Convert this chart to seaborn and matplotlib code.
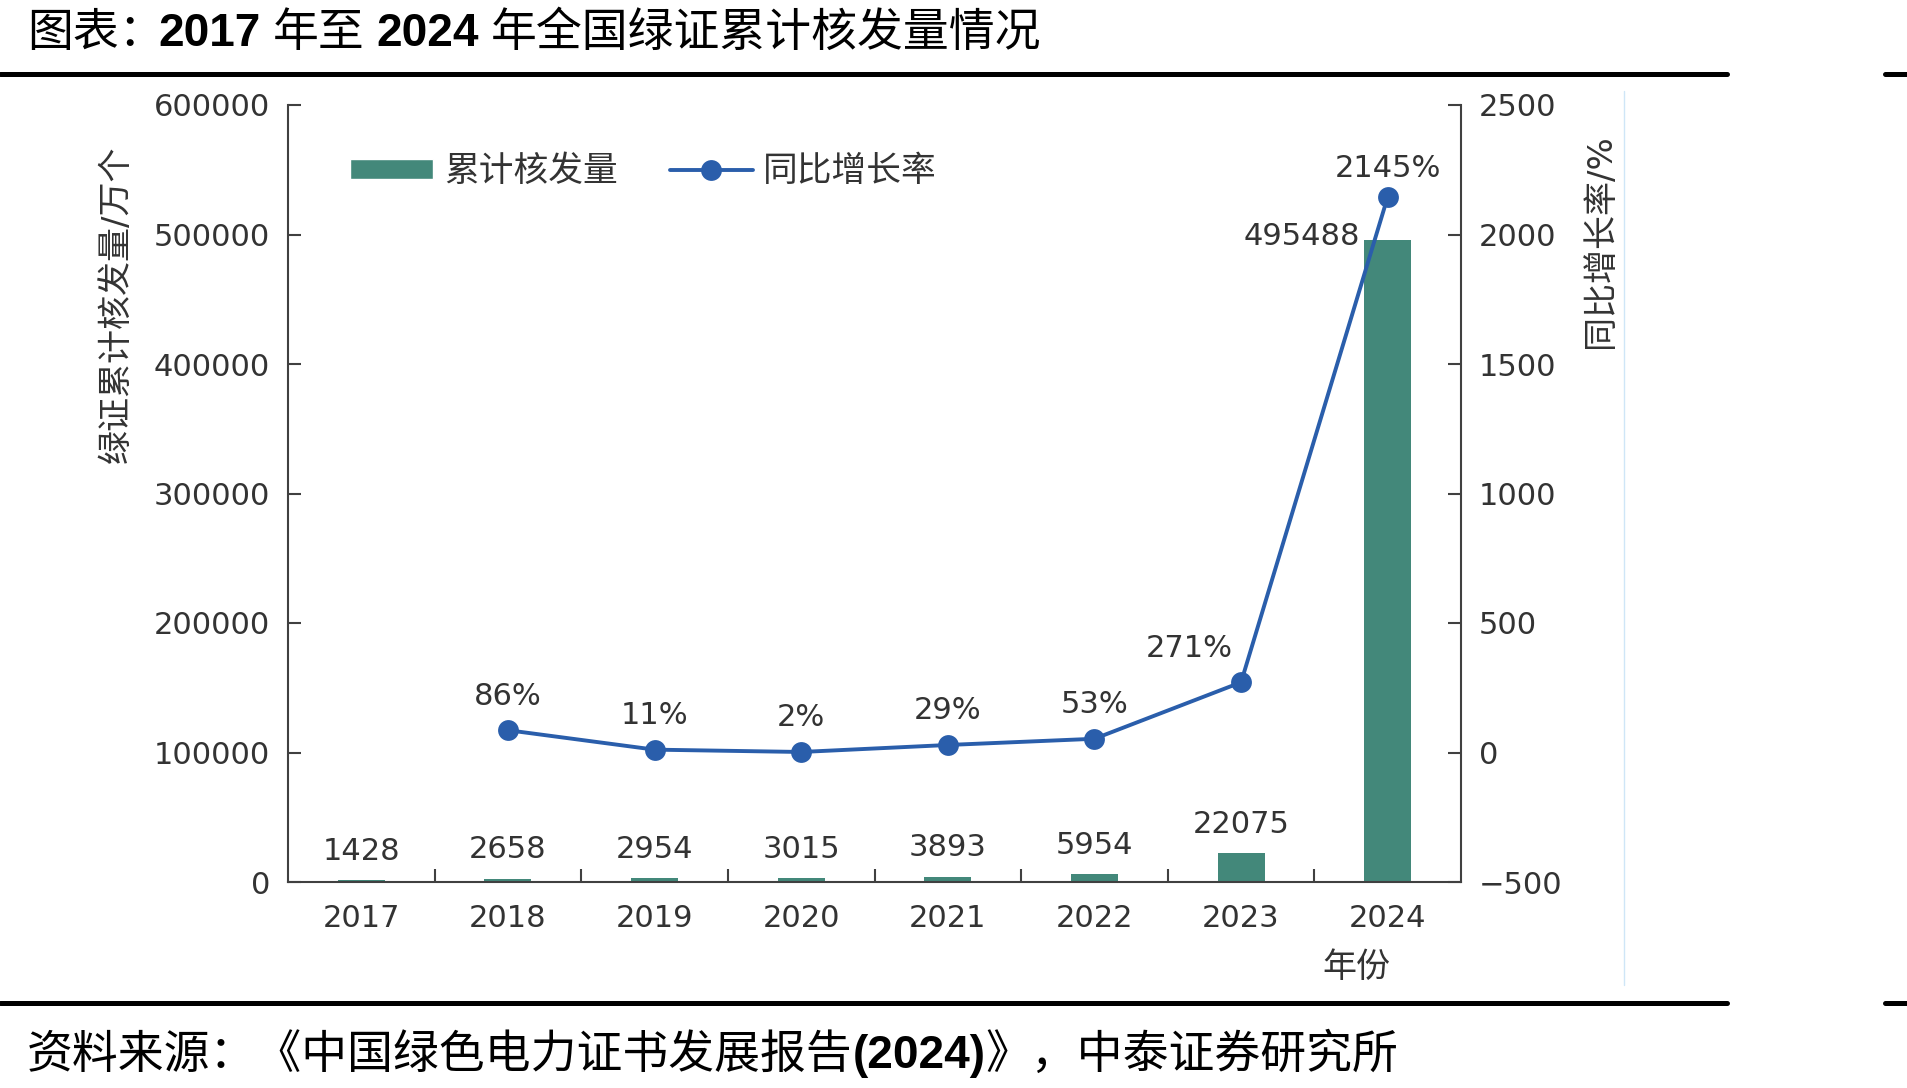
import matplotlib
matplotlib.use('Agg')
import matplotlib.pyplot as plt
import seaborn as sns
import numpy as np
from matplotlib.lines import Line2D
from matplotlib.patches import Patch
from matplotlib.ticker import FixedLocator, MultipleLocator

# 数据: 2017-2024 年全国绿证累计核发量 (万个) 及同比增长率 (%)
years = ['2017', '2018', '2019', '2020', '2021', '2022', '2023', '2024']
issued = [1428, 2658, 2954, 3015, 3893, 5954, 22075, 495488]
growth_years = ['2018', '2019', '2020', '2021', '2022', '2023', '2024']
growth = [86, 11, 2, 29, 53, 271, 2145]

bar_color = '#43887A'
line_color = '#2A5EAB'
text_color = '#333333'
axis_color = '#404040'
bar_width = 0.32

sns.set_theme(style='white')
plt.rcParams['font.family'] = ['DejaVu Sans', 'Noto Sans CJK SC']
plt.rcParams['axes.unicode_minus'] = True

W, H = 1907, 1088
fig, ax = plt.subplots(figsize=(W / 100, H / 100), dpi=100)
fig.subplots_adjust(left=288 / W, right=1461 / W, bottom=1 - 882 / H, top=1 - 105 / H)

# 柱状图 - 累计核发量
sns.barplot(x=years, y=issued, color=bar_color, width=bar_width, saturation=1,
            linewidth=0, ax=ax)
ax.set_xlim(-0.5, len(years) - 0.5)
ax.set_ylim(0, 600000)
ax.yaxis.set_major_locator(MultipleLocator(100000))

for i, v in enumerate(issued):
    if i == len(issued) - 1:
        ax.annotate(str(v), (i - bar_width / 2, v), xytext=(-4, 4), textcoords='offset pixels',
                    ha='right', va='center', fontsize=22, color=text_color)
    else:
        ax.annotate(str(v), (i, v), xytext=(0, 29), textcoords='offset pixels',
                    ha='center', va='center', fontsize=22, color=text_color)

# 折线图 - 同比增长率 (右轴)
ax2 = ax.twinx()
pos = [years.index(y) for y in growth_years]
sns.lineplot(x=pos, y=growth, color=line_color, marker='o', markersize=15,
             markeredgewidth=0, linewidth=2.8, legend=False, ax=ax2)
ax2.set_ylim(-500, 2500)
ax2.yaxis.set_major_locator(MultipleLocator(500))
ax2.set_xlim(-0.5, len(years) - 0.5)

for yr, p, g in zip(growth_years, pos, growth):
    dx = -52 if yr == '2023' else 0
    dy = 28 if yr == '2024' else 34
    ax2.annotate(f'{g}%', (p, g), xytext=(dx, dy), textcoords='offset pixels',
                 ha='center', va='center', fontsize=22, color=text_color)

# 坐标轴样式
for side in ['top', 'right']:
    ax.spines[side].set_visible(False)
for side in ['top', 'left', 'bottom']:
    ax2.spines[side].set_visible(False)
for sp in [ax.spines['left'], ax.spines['bottom'], ax2.spines['right']]:
    sp.set_color(axis_color)
    sp.set_linewidth(1.5)

ax.xaxis.set_minor_locator(FixedLocator(np.arange(0.5, len(years) - 1, 1)))
ax.tick_params(axis='x', which='major', bottom=False, length=0, pad=16,
               labelsize=22, labelcolor=text_color)
ax.tick_params(axis='x', which='minor', bottom=True, direction='in', length=9.5,
               width=1.5, color=axis_color)
ax.tick_params(axis='y', left=True, direction='in', length=9.5, width=1.5,
               color=axis_color, labelcolor=text_color, labelsize=22, pad=13)
ax2.tick_params(axis='y', right=True, direction='in', length=9.5, width=1.5,
                color=axis_color, labelcolor=text_color, labelsize=22, pad=13)

ax.set_ylabel('绿证累计核发量/万个', fontsize=24.5, color=text_color)
ax.yaxis.set_label_coords(116 / W, 1 - 304 / H, transform=fig.transFigure)
ax.yaxis.label.set_verticalalignment('center')
ax2.set_ylabel('同比增长率/%', fontsize=24.5, color=text_color)
ax2.yaxis.set_label_coords(1600 / W, 1 - 241 / H, transform=fig.transFigure)
ax2.yaxis.label.set_verticalalignment('center')
ax.set_xlabel('年份', fontsize=24.5, color=text_color)
ax.xaxis.set_label_coords(1356 / W, 1 - 967 / H, transform=fig.transFigure)
ax.xaxis.label.set_verticalalignment('center')

# 图例
handles = [Patch(facecolor=bar_color, label='累计核发量'),
           Line2D([], [], color=line_color, marker='o', markersize=15, markeredgewidth=0,
                  linewidth=2.8, label='同比增长率')]
fig.legend(handles=handles, loc='center left', bbox_to_anchor=(350 / W, 1 - 171 / H),
           ncol=2, frameon=False, fontsize=25, labelcolor=text_color,
           handlelength=2.4, handleheight=0.5, handletextpad=0.3, columnspacing=1.5,
           borderpad=0, borderaxespad=0)

# 标题、来源与分隔线
renderer = fig.canvas.get_renderer()


def draw_pieces(pieces, x, y):
    for txt, bold, gap in pieces:
        if bold:
            t = fig.text(x, y, txt, fontsize=33, va='baseline', ha='left', color='black',
                         family=['Liberation Sans'], fontweight='bold')
        else:
            t = fig.text(x, y, txt, fontsize=33, va='baseline', ha='left', color='black',
                         family=['Noto Sans CJK SC', 'DejaVu Sans'])
        bb = t.get_window_extent(renderer)
        x = (bb.x1 + gap) / W


draw_pieces([('图表：', False, -6), ('2017', True, 12), ('年至', False, 12),
             ('2024', True, 12), ('年全国绿证累计核发量情况', False, 0)],
            27 / W, 1 - 46 / H)
draw_pieces([('资料来源：《中国绿色电力证书发展报告', False, 0), ('(2024)', True, 0),
             ('》，中泰证券研究所', False, 0)],
            27 / W, 1 - 1068 / H)

for yy in [74, 1003]:
    fig.add_artist(Line2D([0, 1727 / W], [1 - yy / H] * 2, transform=fig.transFigure,
                          color='black', linewidth=3.6))
    fig.add_artist(Line2D([1885 / W, 1], [1 - yy / H] * 2, transform=fig.transFigure,
                          color='black', linewidth=3.6))
fig.add_artist(Line2D([1624 / W] * 2, [1 - 91 / H, 1 - 985 / H], transform=fig.transFigure,
                      color='#CFE6F7', linewidth=1))

fig.savefig('out.png', dpi=100)
